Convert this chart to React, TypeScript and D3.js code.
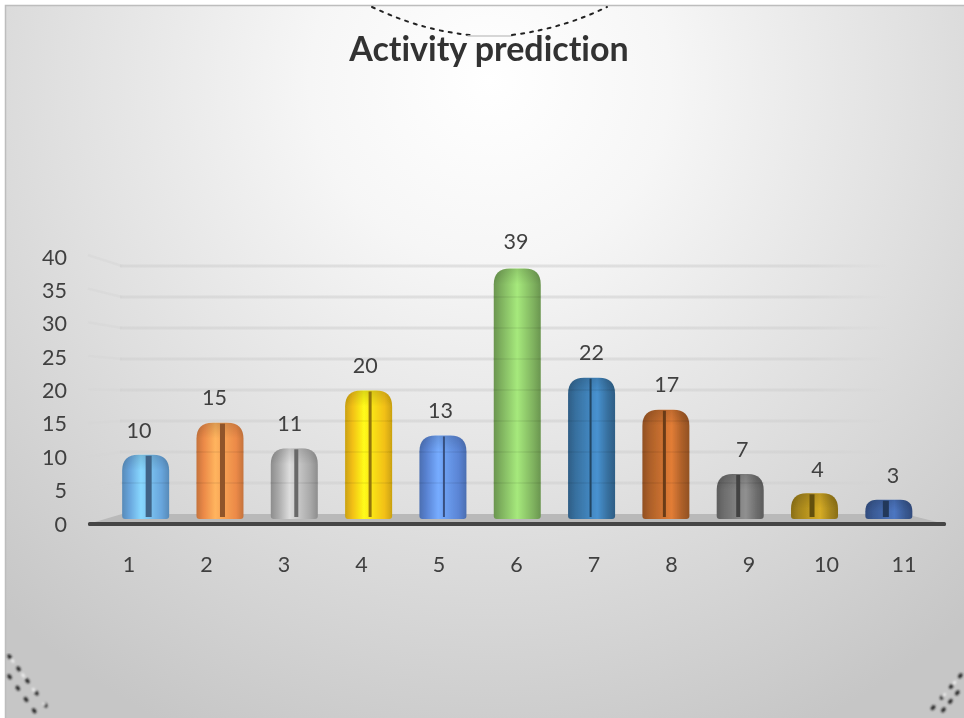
import * as d3 from 'd3';

const categories = ['1', '2', '3', '4', '5', '6', '7', '8', '9', '10', '11'];
const values = [10, 15, 11, 20, 13, 39, 22, 17, 7, 4, 3];
const barColors = [
  '#68a5dc', '#ec8a48', '#a9a9a9', '#f2c014', '#5a84d4', '#7fb25f',
  '#37709f', '#ad6029', '#6e6e6e', '#a4841c', '#3a5a94',
];
const yTicks = [0, 5, 10, 15, 20, 25, 30, 35, 40];

const width = 964;
const height = 718;
const barWidth = 47;
const mid = (categories.length - 1) / 2;
const font = 'Lato, "Open Sans", sans-serif';

// the 3d projection puts bars, data labels and axis labels on different baselines
const barX = d3.scaleBand().domain(categories).range([108.5, 926]);
const labelX = d3.scalePoint().domain(categories).range([139, 893]);
const axisX = d3.scalePoint().domain(categories).range([129, 904]);
const barY = d3.scaleLinear().domain([0, 40]).range([519, 262]);
const labelY = d3.scaleLinear().domain([0, 40]).range([495, 235]);
const axisY = d3.scaleLinear().domain([0, 40]).range([524, 257]);
const backY = d3.scaleLinear().domain([0, 40]).range([514, 266]);
const wallY = d3.scaleLinear().domain([0, 40]).range([524, 255]);

function barPath(x: number, top: number, bottom: number) {
  const r = Math.min(16, (bottom - top) * 0.6);
  const w = barWidth;
  const p = d3.path();
  p.moveTo(x, bottom - 3);
  p.lineTo(x, top + r);
  p.bezierCurveTo(x, top + r * 0.35, x + r * 0.35, top, x + r, top);
  p.lineTo(x + w - r, top);
  p.bezierCurveTo(x + w - r * 0.35, top, x + w, top + r * 0.35, x + w, top + r);
  p.lineTo(x + w, bottom - 3);
  p.quadraticCurveTo(x + w, bottom, x + w - 3, bottom);
  p.lineTo(x + 3, bottom);
  p.quadraticCurveTo(x, bottom, x, bottom - 3);
  p.closePath();
  return p.toString();
}

export default function App() {
  return (
    <svg
      width={width}
      height={height}
      style={{ position: 'absolute', left: 0, top: 0, background: '#fff' }}
    >
      <defs>
        <radialGradient id="panel" gradientUnits="userSpaceOnUse" cx={490} cy={80} r={720}>
          <stop offset="0" stopColor="#ffffff" />
          <stop offset="0.25" stopColor="#f6f6f6" />
          <stop offset="0.6" stopColor="#e0e0e0" />
          <stop offset="1" stopColor="#c6c6c6" />
        </radialGradient>
        <linearGradient id="gridFade" gradientUnits="userSpaceOnUse" x1={120} x2={890} y1={0} y2={0}>
          <stop offset="0" stopColor="#cfcfcf" stopOpacity={0.55} />
          <stop offset="0.9" stopColor="#cfcfcf" stopOpacity={0.55} />
          <stop offset="1" stopColor="#cfcfcf" stopOpacity={0} />
        </linearGradient>
        <linearGradient id="capShade" x1="0" x2="0" y1="0" y2="1">
          <stop offset="0" stopColor="#000" stopOpacity={0.14} />
          <stop offset="1" stopColor="#000" stopOpacity={0} />
        </linearGradient>
        <filter id="soft" x="-5%" y="-5%" width="110%" height="110%">
          <feGaussianBlur stdDeviation="0.5" />
        </filter>
        <filter id="softer" x="-5%" y="-5%" width="110%" height="110%">
          <feGaussianBlur stdDeviation="0.3" />
        </filter>
        <filter id="dots" x="-5%" y="-5%" width="110%" height="110%">
          <feGaussianBlur stdDeviation="0.8" />
        </filter>
        {barColors.map((c, i) => {
          // highlight leans towards the chart's centre side of the slit
          const peak = i < mid ? 0.4 : i > mid ? 0.62 : 0.5;
          return (
            <linearGradient key={c} id={`bar${i}`} x1="0" x2="1" y1="0" y2="0">
              <stop offset="0" stopColor={d3.rgb(c).darker(0.5).formatHex()} />
              <stop offset="0.16" stopColor={c} />
              <stop offset={peak} stopColor={d3.rgb(c).brighter(0.75).formatHex()} />
              <stop offset="0.84" stopColor={c} />
              <stop offset="1" stopColor={d3.rgb(c).darker(0.5).formatHex()} />
            </linearGradient>
          );
        })}
      </defs>

      {/* panel */}
      <rect x={6} y={6} width={width - 6} height={height - 6} fill="url(#panel)" />
      <path d={`M5.5,${height}V5.5H${width}`} fill="none" stroke="#bdbdbd" strokeWidth={1.5} />

      {/* scan artefacts of the slide's round frame */}
      <g fill="none" strokeLinecap="round" filter="url(#softer)">
        <path d="M372,7C400,20 430,31 470,35" stroke="#222" strokeWidth={2} strokeDasharray="3 6" />
        <path d="M468,36H512" stroke="#c9c9c9" strokeWidth={1.5} />
        <path d="M512,35C550,30 580,20 607,7" stroke="#222" strokeWidth={2} strokeDasharray="3 6" />
      </g>
      <g fill="none" strokeLinecap="round" filter="url(#dots)">
        <path d="M9,656L52,714" stroke="#222" strokeWidth={3.5} strokeDasharray="2 13" />
        <path d="M9,676L38,716" stroke="#222" strokeWidth={3.5} strokeDasharray="2 12" />
        <path d="M12,660L44,704" stroke="#f2f2f2" strokeWidth={2.5} strokeDasharray="2 16" />
        <path d="M961,675L926,716" stroke="#222" strokeWidth={3.5} strokeDasharray="2 12" />
        <path d="M958,692L940,714" stroke="#222" strokeWidth={3.5} strokeDasharray="2 9" />
        <path d="M955,682L935,706" stroke="#f2f2f2" strokeWidth={2.5} strokeDasharray="2 14" />
      </g>

      {/* back wall grid */}
      {yTicks.filter(t => t > 0).map(t => (
        <g key={t}>
          <line
            x1={88}
            x2={122}
            y1={wallY(t)}
            y2={backY(t)}
            stroke="#d4d4d4"
            strokeOpacity={0.45}
            strokeWidth={2.5}
          />
          <rect x={120} y={backY(t) - 1.5} width={770} height={3} fill="url(#gridFade)" />
        </g>
      ))}

      {/* floor */}
      <polygon points="88,524 122,514 905,514 945,524" fill="#b9b9b9" />
      <rect x={88} y={522} width={858} height={4} rx={1.5} fill="#454545" />

      {/* bars */}
      <g filter="url(#soft)">
        {categories.map((c, i) => {
          const x = barX(c)! + (barX.bandwidth() - barWidth) / 2;
          const top = barY(values[i]);
          const bottom = barY(0);
          const d = barPath(x, top, bottom);
          const capH = Math.min(16, (bottom - top) * 0.6);
          // slit runs from the bar centre towards the vanishing point
          const slitW = Math.max(1, Math.abs(i - mid) + 1);
          const cx = x + barWidth / 2;
          const slitX = i < mid ? cx : cx - slitW;
          const clipId = `clip${i}`;
          return (
            <g key={c}>
              <clipPath id={clipId}>
                <path d={d} />
              </clipPath>
              <path d={d} fill={`url(#bar${i})`} />
              <rect
                x={x}
                y={top}
                width={barWidth}
                height={capH}
                fill="url(#capShade)"
                clipPath={`url(#${clipId})`}
              />
              {yTicks
                .filter(t => t > 0 && backY(t) > top + 6)
                .map(t => (
                  <rect
                    key={t}
                    x={x - 0.5}
                    y={backY(t) - 1}
                    width={barWidth + 1}
                    height={2}
                    fill="#000"
                    opacity={0.05}
                  />
                ))}
              {i !== 5 && (
                <rect
                  x={slitX}
                  y={top + 1}
                  width={slitW}
                  height={bottom - top - 3}
                  fill={d3.rgb(barColors[i]).darker(1.4).formatHex()}
                />
              )}
            </g>
          );
        })}
      </g>

      <g filter="url(#softer)" fontFamily={font} fill="#404040">
        {/* y axis labels */}
        {yTicks.map(t => (
          <text key={t} x={67} y={axisY(t)} dy="0.35em" textAnchor="end" fontSize={21.5}>
            {t}
          </text>
        ))}

        {/* x axis labels */}
        {categories.map(c => (
          <text key={c} x={axisX(c)} y={564} dy="0.35em" textAnchor="middle" fontSize={21.5}>
            {c}
          </text>
        ))}

        {/* data labels */}
        {categories.map((c, i) => (
          <text
            key={c}
            x={labelX(c)}
            y={labelY(values[i])}
            dy="0.35em"
            textAnchor="middle"
            fontSize={21.5}
          >
            {values[i]}
          </text>
        ))}

        <text
          x={489}
          y={61}
          textAnchor="middle"
          fontSize={34}
          fontWeight={700}
          fill="#333333"
          style={{ fontVariantLigatures: 'none' }}
        >
          Activity prediction
        </text>
      </g>
    </svg>
  );
}
